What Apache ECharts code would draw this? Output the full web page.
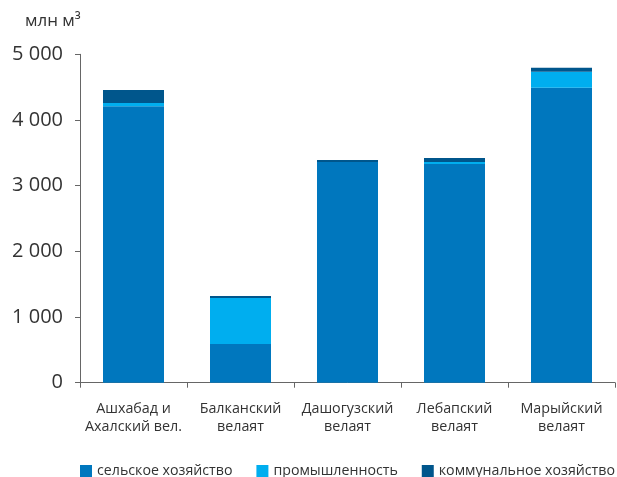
<!DOCTYPE html>
<html><head><meta charset="utf-8">
<script src="https://cdn.jsdelivr.net/npm/echarts@6/dist/echarts.min.js"></script>
<style>html,body{margin:0;padding:0;background:#fff}#c{width:617px;height:477px}</style>
</head><body><div id="c"></div>
<script>
const categories = ['Ашхабад и\nАхалский вел.', 'Балканский\nвелаят', 'Дашогузский\nвелаят', 'Лебапский\nвелаят', 'Марыйский\nвелаят'];
const agriculture = [4210, 590, 3360, 3330, 4490];
const industry = [50, 700, 0, 30, 245];
const communal = [195, 30, 30, 60, 60];
const seriesNames = ['сельское хозяйство', 'промышленность', 'коммунальное хозяйство'];
const yTicks = [0, 1000, 2000, 3000, 4000, 5000];

const font = '"Open Sans", "Noto Sans", sans-serif';
const chart = echarts.init(document.getElementById('c'), null, {renderer: 'canvas'});
const colors = ['#0077be', '#00aeef', '#00568c'];
const mk = (name, data, i) => ({
  name, type: 'bar', stack: 'total', data, barWidth: 61,
  itemStyle: {color: colors[i]}, emphasis: {disabled: true}
});
chart.setOption({
  animation: false,
  textStyle: {fontFamily: font},
  title: {text: 'млн м³', left: 20, top: 8, textStyle: {fontFamily: font, fontSize: 17, fontWeight: 500, color: '#333'}},
  grid: {left: 80, right: 2, top: 54.3, bottom: 94.3, containLabel: false},
  legend: {
    data: seriesNames, left: 75, top: 459, width: 700, padding: [5, 0, 5, 5],
    itemWidth: 12, itemHeight: 12, itemGap: 24,
    icon: 'rect', textStyle: {fontFamily: font, fontSize: 14.2, color: '#333'}
  },
  xAxis: {
    type: 'category', data: categories,
    axisLine: {lineStyle: {color: '#666', width: 1}},
    axisTick: {show: true, alignWithLabel: false, length: 5, lineStyle: {color: '#666'}},
    axisLabel: {fontFamily: font, fontSize: 14.3, color: '#333', lineHeight: 18, margin: 17, interval: 0}
  },
  yAxis: {
    type: 'value', min: yTicks[0], max: yTicks[yTicks.length - 1], interval: 1000,
    axisLine: {show: true, lineStyle: {color: '#666', width: 1}},
    axisTick: {show: true, length: 5, lineStyle: {color: '#666'}},
    splitLine: {show: false},
    axisLabel: {fontFamily: font, fontSize: 20, color: '#333', margin: 17,
      formatter: v => v === 0 ? '0' : String(v).replace(/\B(?=(\d{3})+(?!\d))/g, ' ')}
  },
  series: [mk(seriesNames[0], agriculture, 0), mk(seriesNames[1], industry, 1), mk(seriesNames[2], communal, 2)]
});
</script></body></html>
